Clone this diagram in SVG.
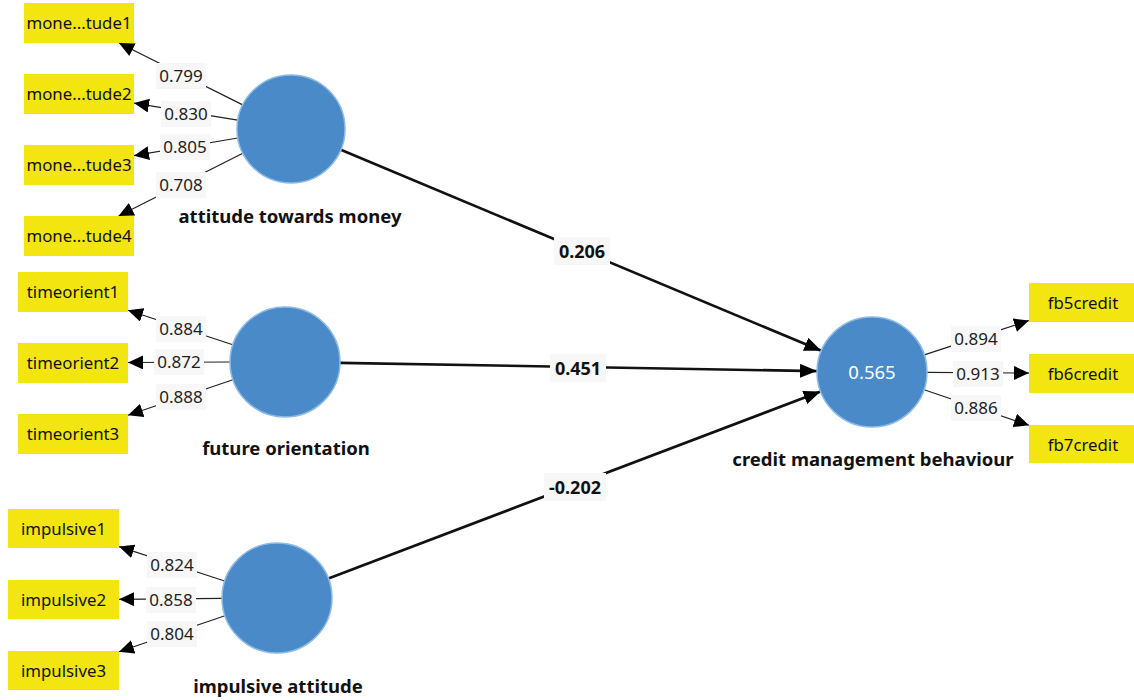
<svg xmlns="http://www.w3.org/2000/svg" width="1134" height="700" viewBox="0 0 1134 700">
<style>
.ind rect{fill:#f3e50f}
.ind text{font-family:"Noto Sans","Open Sans",sans-serif;font-size:16.8px;fill:#111;text-anchor:middle}
.lv circle{fill:#4a8ac8;stroke:#8dbbe6;stroke-width:1.5}
.lv text.name{font-family:"Noto Sans","Open Sans",sans-serif;font-size:18.5px;font-weight:bold;fill:#111;text-anchor:middle}
.lv text.r2{font-family:"Noto Sans","Open Sans",sans-serif;font-size:18.5px;fill:#fff;text-anchor:middle}
.ld{stroke:#222;stroke-width:1.2;fill:none;marker-end:url(#ah)}
.pc{stroke:#111;stroke-width:2.6;fill:none;marker-end:url(#ahb)}
.lbl rect{fill:#f7f7f7}
.lbl text{font-family:"Noto Sans","Open Sans",sans-serif;font-size:17px;fill:#222;text-anchor:middle}
.plbl rect{fill:#f7f7f7}
.plbl text{font-family:"Noto Sans","Open Sans",sans-serif;font-size:18px;font-weight:bold;fill:#111;text-anchor:middle}
</style>
<defs>
<marker id="ah" markerUnits="userSpaceOnUse" markerWidth="16" markerHeight="14" refX="15" refY="7" orient="auto"><path d="M0,0 L15,7 L0,14 z" fill="#000"/></marker>
<marker id="ahb" markerUnits="userSpaceOnUse" markerWidth="18" markerHeight="14" refX="17" refY="7" orient="auto"><path d="M0,0 L17,7 L0,14 z" fill="#000"/></marker>
</defs>
<rect width="1134" height="700" fill="#fff"/>

<g id="connectors">
<line class="ld" x1="242.7" y1="104.9" x2="119" y2="43"/>
<line class="ld" x1="237.7" y1="120.2" x2="134" y2="103.1"/>
<line class="ld" x1="237.8" y1="138" x2="134" y2="155.7"/>
<line class="ld" x1="242.8" y1="153.3" x2="118.6" y2="216"/>
<line class="ld" x1="232.8" y1="344.8" x2="128" y2="310.2"/>
<line class="ld" x1="230" y1="362" x2="128" y2="362.5"/>
<line class="ld" x1="232.9" y1="379.7" x2="128" y2="415.3"/>
<line class="ld" x1="224.7" y1="581" x2="119" y2="546.6"/>
<line class="ld" x1="222" y1="598.4" x2="119" y2="599.3"/>
<line class="ld" x1="224.9" y1="615.7" x2="119" y2="651.7"/>
<line class="ld" x1="924.3" y1="354.9" x2="1029" y2="320.5"/>
<line class="ld" x1="927" y1="372.4" x2="1029" y2="373.1"/>
<line class="ld" x1="924.1" y1="389.7" x2="1029" y2="425.3"/>
<line class="pc" x1="340.8" y1="149.8" x2="821.3" y2="350.8"/>
<line class="pc" x1="340" y1="362.9" x2="817" y2="371.1"/>
<line class="pc" x1="328.4" y1="578.5" x2="820.6" y2="391.5"/>
<g class="lbl">
<rect x="156" y="63" width="50" height="26"/><text x="181" y="82">0.799</text>
<rect x="161" y="101" width="50" height="26"/><text x="186" y="120">0.830</text>
<rect x="160" y="134" width="50" height="26"/><text x="185" y="153">0.805</text>
<rect x="156" y="172" width="50" height="26"/><text x="181" y="191">0.708</text>
<rect x="156" y="316" width="50" height="26"/><text x="181" y="335">0.884</text>
<rect x="154" y="349" width="50" height="26"/><text x="179" y="368">0.872</text>
<rect x="156" y="384" width="50" height="26"/><text x="181" y="403">0.888</text>
<rect x="147" y="552" width="50" height="26"/><text x="172" y="571">0.824</text>
<rect x="146" y="587" width="50" height="26"/><text x="171" y="606">0.858</text>
<rect x="147" y="621" width="50" height="26"/><text x="172" y="640">0.804</text>
<rect x="951" y="326" width="50" height="26"/><text x="976" y="345">0.894</text>
<rect x="953" y="361" width="50" height="26"/><text x="978" y="380">0.913</text>
<rect x="951" y="395" width="50" height="26"/><text x="976" y="414">0.886</text>
</g>
<g class="plbl">
<rect x="554" y="237" width="56" height="28"/><text x="582" y="257.5">0.206</text>
<rect x="550" y="354" width="56" height="28"/><text x="578" y="374.5">0.451</text>
<rect x="544" y="473" width="62" height="28"/><text x="575" y="493.5">-0.202</text>
</g>
</g>

<g id="ind-mone1" class="ind"><rect x="24" y="3" width="110" height="40"/><text x="79" y="29">mone...tude1</text></g>
<g id="ind-mone2" class="ind"><rect x="24" y="74" width="110" height="40"/><text x="79" y="100">mone...tude2</text></g>
<g id="ind-mone3" class="ind"><rect x="24" y="145" width="110" height="40"/><text x="79" y="171">mone...tude3</text></g>
<g id="ind-mone4" class="ind"><rect x="24" y="216" width="110" height="40"/><text x="79" y="242">mone...tude4</text></g>
<g id="ind-time1" class="ind"><rect x="18" y="272" width="110" height="40"/><text x="73" y="298">timeorient1</text></g>
<g id="ind-time2" class="ind"><rect x="18" y="343" width="110" height="40"/><text x="73" y="369">timeorient2</text></g>
<g id="ind-time3" class="ind"><rect x="18" y="414" width="110" height="40"/><text x="73" y="440">timeorient3</text></g>
<g id="ind-imp1" class="ind"><rect x="8" y="509" width="111" height="39"/><text x="63.5" y="535">impulsive1</text></g>
<g id="ind-imp2" class="ind"><rect x="8" y="580" width="111" height="39"/><text x="63.5" y="606">impulsive2</text></g>
<g id="ind-imp3" class="ind"><rect x="8" y="651" width="111" height="39"/><text x="63.5" y="677">impulsive3</text></g>
<g id="ind-fb5" class="ind"><rect x="1029" y="283" width="110" height="39"/><text x="1083" y="309">fb5credit</text></g>
<g id="ind-fb6" class="ind"><rect x="1029" y="354" width="110" height="39"/><text x="1083" y="380">fb6credit</text></g>
<g id="ind-fb7" class="ind"><rect x="1029" y="425" width="110" height="38"/><text x="1083" y="451">fb7credit</text></g>

<g id="lv-money" class="lv"><circle cx="291" cy="129" r="54"/><text class="name" x="290" y="223">attitude towards money</text></g>
<g id="lv-future" class="lv"><circle cx="285" cy="362" r="55"/><text class="name" x="286" y="455">future orientation</text></g>
<g id="lv-impulsive" class="lv"><circle cx="277" cy="598" r="55"/><text class="name" x="278" y="693">impulsive attitude</text></g>
<g id="lv-credit" class="lv"><circle cx="872" cy="372" r="55"/><text class="r2" x="872" y="379">0.565</text><text class="name" x="873" y="466">credit management behaviour</text></g>
</svg>
